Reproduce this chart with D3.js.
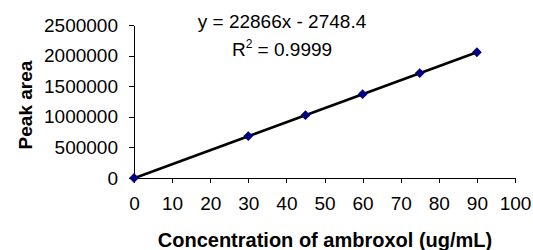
<!DOCTYPE html>
<html><head><meta charset="utf-8">
<script src="https://cdn.jsdelivr.net/npm/d3@7"></script>
<style>body{margin:0;background:#fff}svg{display:block;font-family:"Liberation Sans",Arial,sans-serif}</style>
</head><body><svg id="c" width="533" height="250"></svg>
<script>
const concentrations = [0, 30, 45, 60, 75, 90];
const peakAreas = [0, 685000, 1026000, 1370000, 1714000, 2055000];
const xTicks = [0, 10, 20, 30, 40, 50, 60, 70, 80, 90, 100];
const yTicks = [0, 500000, 1000000, 1500000, 2000000, 2500000];
const trendX = [0, 90];
const slope = 22866, intercept = -2748.4;
const equationLines = ["y = 22866x - 2748.4", "R2 = 0.9999"];

const svg = d3.select("#c");
const x = d3.scaleLinear().domain([0, 100]).range([134, 515]);
const y = d3.scaleLinear().domain([0, 2500000]).range([178, 25]);

const ax = svg.append("g").attr("transform", "translate(0,178)")
  .call(d3.axisBottom(x).tickValues(xTicks).tickFormat(d3.format("d")).tickSize(5).tickPadding(14).tickSizeOuter(0));
const ay = svg.append("g").attr("transform", "translate(134,0)")
  .call(d3.axisLeft(y).tickValues(yTicks).tickFormat(d3.format("d")).tickSize(5).tickPadding(11).tickSizeOuter(0));
[ax, ay].forEach(g => {
  g.selectAll("path,line").attr("stroke", "#000").attr("stroke-width", 1).attr("shape-rendering", "crispEdges");
  g.selectAll("text").attr("fill", "#000").style("font-size", "19px").style("font-family", '"Liberation Sans",Arial,sans-serif');
});

// trendline
svg.append("line")
  .attr("x1", x(trendX[0])).attr("y1", y(slope * trendX[0] + intercept))
  .attr("x2", x(trendX[1])).attr("y2", y(slope * trendX[1] + intercept))
  .attr("stroke", "#000").attr("stroke-width", 2.6);

// markers
svg.selectAll(".pt").data(concentrations).enter().append("path")
  .attr("d", d3.symbol().type(d3.symbolSquare).size(48))
  .attr("transform", (d, i) => `translate(${x(d)},${y(peakAreas[i])}) rotate(45)`)
  .attr("fill", "#000080");

// equation
svg.append("text").attr("x", 282).attr("y", 28).attr("text-anchor", "middle")
  .style("font-size", "19px").text(equationLines[0]);
const r = svg.append("text").attr("x", 282).attr("y", 56).attr("text-anchor", "middle").style("font-size", "19px");
r.append("tspan").text("R");
r.append("tspan").attr("dy", -8).style("font-size", "12px").text("2");
r.append("tspan").attr("dy", 8).text(" = 0.9999");

// axis titles
svg.append("text").attr("x", 325).attr("y", 247).attr("text-anchor", "middle")
  .style("font-size", "20px").style("font-weight", "bold").text("Concentration of ambroxol (ug/mL)");
svg.append("text").attr("transform", "translate(32,105) rotate(-90)").attr("text-anchor", "middle")
  .style("font-size", "19px").style("font-weight", "bold").text("Peak area");
</script></body></html>
